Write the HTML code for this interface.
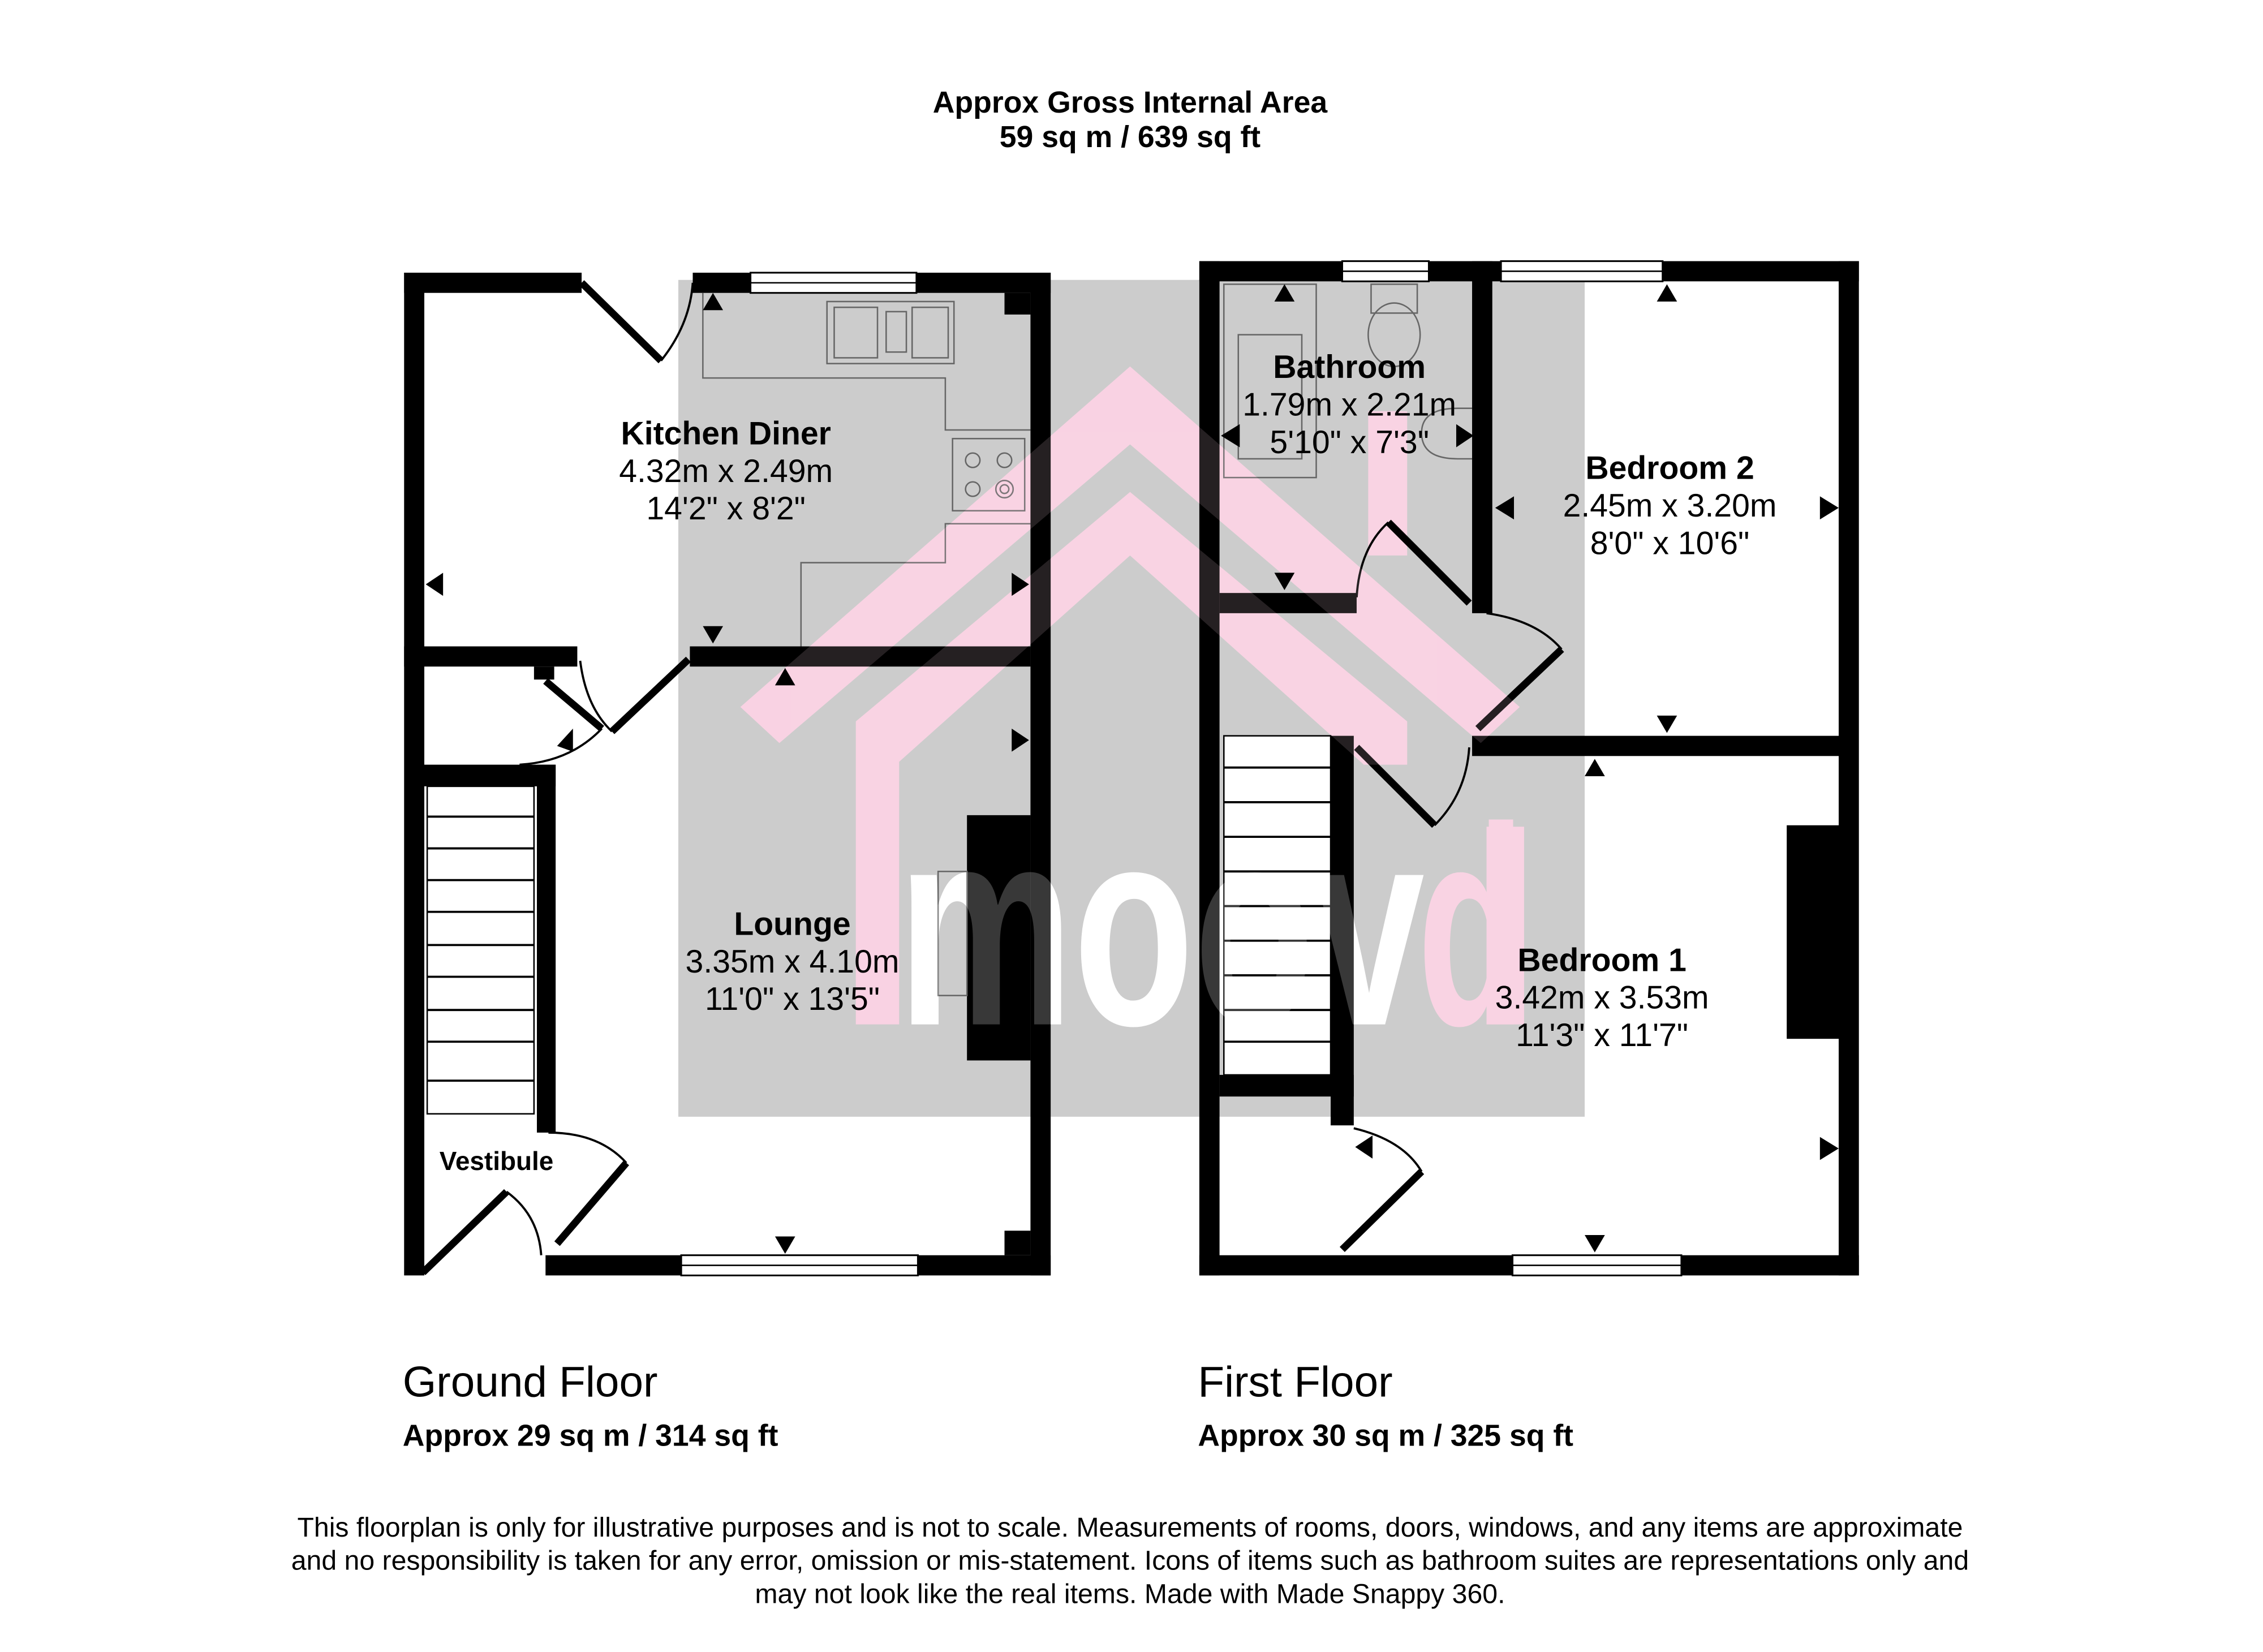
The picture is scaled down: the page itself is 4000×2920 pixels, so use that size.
<!DOCTYPE html>
<html><head><meta charset="utf-8"><style>
html,body{margin:0;padding:0;background:#fff}
svg{display:block}
text{font-family:"Liberation Sans",Arial,sans-serif}
</style></head><body>
<svg width="4000" height="2920" viewBox="0 0 1568 1145" preserveAspectRatio="none" xmlns="http://www.w3.org/2000/svg">
<rect width="1568" height="1145" fill="#fff"/>
<!-- watermark -->
<rect x="470" y="194" width="628" height="580" fill="#cccccc"/>
<g fill="#f9d3e3">
<polygon points="513,490 783,254 1053,490 1026,515 783,308 540,515"/>
<polygon points="593,710 593,500 783,341 975,500 975,530 945,530 783,385 623,528 623,710"/>
<rect x="948" y="285" width="27" height="100"/>
<rect x="1030" y="573" width="26" height="137"/>
</g>
<text x="622" y="710" font-size="196" font-weight="bold" fill="#fff" textLength="365" lengthAdjust="spacingAndGlyphs">moov</text>
<text x="982" y="710" font-size="196" font-weight="bold" fill="#f9d3e3" textLength="75" lengthAdjust="spacingAndGlyphs">d</text>

<!-- GROUND FLOOR -->
<g fill="#000">
<rect x="280" y="189" width="123" height="14"/>
<rect x="480" y="189" width="40" height="14"/>
<rect x="635" y="189" width="93" height="14"/>
<rect x="280" y="189" width="14" height="695"/>
<rect x="714" y="189" width="14" height="695"/>
<rect x="378" y="870" width="94" height="14"/>
<rect x="636" y="870" width="92" height="14"/>
<rect x="696" y="203" width="18" height="15"/>
<rect x="696" y="853" width="18" height="17"/>
<rect x="280" y="448" width="120" height="14"/>
<rect x="370" y="462" width="14" height="9"/>
<rect x="478" y="448" width="236" height="14"/>
<rect x="294" y="530" width="91" height="15"/>
<rect x="372" y="530" width="13" height="255"/>
<rect x="670" y="565" width="44" height="170"/>
<rect x="1238" y="572" width="36" height="148"/>
</g>
<!-- windows -->
<g fill="#fff" stroke="#000" stroke-width="1.2">
<rect x="520" y="189" width="115" height="14"/>
<rect x="472" y="870" width="164" height="14"/>
<rect x="930" y="181" width="60" height="14"/>
<rect x="1040" y="181" width="112" height="14"/>
<rect x="1048" y="870" width="117" height="14"/>
</g>
<g stroke="#000" stroke-width="1"><line x1="520" y1="196" x2="635" y2="196"/><line x1="472" y1="877" x2="636" y2="877"/><line x1="930" y1="188" x2="990" y2="188"/><line x1="1040" y1="188" x2="1152" y2="188"/><line x1="1048" y1="877" x2="1165" y2="877"/></g>
<!-- doors ground -->
<g stroke="#000" fill="none">
<line x1="403" y1="196" x2="458" y2="250" stroke-width="5"/>
<path d="M458,250 Q478,225 480,196" stroke-width="1.5"/>
<line x1="477" y1="457" x2="424" y2="507" stroke-width="5"/>
<path d="M402,458 Q406,490 424,507" stroke-width="1.5"/>
<line x1="378" y1="472" x2="417" y2="505" stroke-width="5"/>
<path d="M360,530 Q395,528 417,505" stroke-width="1.5"/>
<line x1="293" y1="882" x2="351" y2="826" stroke-width="5"/>
<path d="M351,826 Q373,842 375,870" stroke-width="1.5"/>
<line x1="386" y1="862" x2="434" y2="806" stroke-width="5"/>
<path d="M380,785 Q415,785 434,806" stroke-width="1.5"/>
</g>
<!-- stairs ground -->
<rect x="296" y="545" width="74" height="227" fill="#fff" stroke="#000" stroke-width="1"/>
<g stroke="#000" stroke-width="1.5">
<line x1="296" y1="566" x2="370" y2="566"/><line x1="296" y1="588" x2="370" y2="588"/><line x1="296" y1="610" x2="370" y2="610"/><line x1="296" y1="632" x2="370" y2="632"/><line x1="296" y1="655" x2="370" y2="655"/><line x1="296" y1="677" x2="370" y2="677"/><line x1="296" y1="700" x2="370" y2="700"/><line x1="296" y1="722" x2="370" y2="722"/><line x1="296" y1="749" x2="370" y2="749"/>
</g>
<!-- kitchen units / fittings -->
<g fill="none" stroke="#666" stroke-width="1">
<polyline points="487,203 487,262 655,262 655,298 714,298"/>
<polyline points="714,363 655,363 655,390 555,390 555,448"/>
<rect x="573" y="209" width="88" height="43"/>
<rect x="578" y="213" width="30" height="35"/><rect x="614" y="216" width="14" height="28"/><rect x="632" y="213" width="25" height="35"/>
<rect x="660" y="304" width="50" height="50"/>
<circle cx="674" cy="319" r="5"/><circle cx="696" cy="319" r="5"/><circle cx="674" cy="339" r="5"/><circle cx="696" cy="339" r="6"/><circle cx="696" cy="339" r="3"/>
<rect x="650" y="604" width="20" height="86"/>
<rect x="848" y="197" width="64" height="134"/><rect x="858" y="232" width="44" height="86"/>
<ellipse cx="966" cy="232" rx="18" ry="22"/><rect x="950" y="197" width="32" height="20"/>
<path d="M1020,283 L1010,283 Q985,283 985,300 Q985,318 1010,318 L1020,318"/>
</g>

<!-- FIRST FLOOR -->
<g fill="#000">
<rect x="831" y="181" width="99" height="14"/>
<rect x="990" y="181" width="50" height="14"/>
<rect x="1152" y="181" width="136" height="14"/>
<rect x="831" y="181" width="14" height="703"/>
<rect x="1274" y="181" width="14" height="703"/>
<rect x="831" y="870" width="217" height="14"/>
<rect x="1165" y="870" width="123" height="14"/>
<rect x="1020" y="181" width="14" height="244"/>
<rect x="845" y="411" width="95" height="14"/>
<rect x="1020" y="510" width="254" height="14"/>
<rect x="922" y="510" width="16" height="270"/>
<rect x="845" y="745" width="93" height="15"/>
</g>
<rect x="848" y="510" width="74" height="235" fill="#fff" stroke="#000" stroke-width="1"/>
<g stroke="#000" stroke-width="1.5">
<line x1="848" y1="532" x2="922" y2="532"/><line x1="848" y1="556" x2="922" y2="556"/><line x1="848" y1="580" x2="922" y2="580"/><line x1="848" y1="604" x2="922" y2="604"/><line x1="848" y1="628" x2="922" y2="628"/><line x1="848" y1="652" x2="922" y2="652"/><line x1="848" y1="676" x2="922" y2="676"/><line x1="848" y1="700" x2="922" y2="700"/><line x1="848" y1="722" x2="922" y2="722"/>
</g>
<g stroke="#000" fill="none">
<line x1="1018" y1="418" x2="962" y2="362" stroke-width="5"/>
<path d="M940,414 Q942,380 962,362" stroke-width="1.5"/>
<line x1="1024" y1="505" x2="1082" y2="450" stroke-width="5"/>
<path d="M1030,425 Q1065,430 1082,450" stroke-width="1.5"/>
<line x1="940" y1="518" x2="994" y2="572" stroke-width="5"/>
<path d="M994,572 Q1016,550 1018,518" stroke-width="1.5"/>
<line x1="930" y1="866" x2="985" y2="812" stroke-width="5"/>
<path d="M938,782 Q972,790 985,812" stroke-width="1.5"/>
</g>
<!-- watermark overlay on walls -->
<g opacity="0.22">
<text x="622" y="710" font-size="196" font-weight="bold" fill="#fff" textLength="365" lengthAdjust="spacingAndGlyphs">moov</text>
</g>
<g opacity="0.15" fill="#f9d3e3">
<polygon points="513,490 783,254 1053,490 1026,515 783,308 540,515"/>
<polygon points="593,710 593,500 783,341 975,500 975,530 945,530 783,385 623,528 623,710"/>
</g>
<!-- arrows -->
<g fill="#000">
<polygon points="487,215 501,215 494,203"/>
<polygon points="307,397 307,413 295,405"/>
<polygon points="701,397 701,413 713,405"/>
<polygon points="487,434 501,434 494,446"/>
<polygon points="537,475 551,475 544,463"/>
<polygon points="701,505 701,521 713,513"/>
<polygon points="537,857 551,857 544,869"/>
<polygon points="386,517 397,505 397,521"/>
<polygon points="883,209 897,209 890,197"/>
<polygon points="859,294 859,310 846,302"/>
<polygon points="1009,294 1009,310 1021,302"/>
<polygon points="883,397 897,397 890,409"/>
<polygon points="1049,344 1049,360 1036,352"/>
<polygon points="1261,344 1261,360 1274,352"/>
<polygon points="1148,209 1162,209 1155,197"/>
<polygon points="1148,496 1162,496 1155,508"/>
<polygon points="1098,538 1112,538 1105,526"/>
<polygon points="951,787 951,803 939,795"/>
<polygon points="1261,788 1261,804 1274,796"/>
<polygon points="1098,856 1112,856 1105,868"/>
</g>
<!-- labels -->
<g text-anchor="middle" font-size="22.4">
<text x="783" y="78" font-weight="bold" font-size="21">Approx Gross Internal Area</text>
<text x="783" y="102" font-weight="bold" font-size="21">59 sq m / 639 sq ft</text>
<text x="503" y="308" font-weight="bold">Kitchen Diner</text>
<text x="503" y="334">4.32m x 2.49m</text>
<text x="503" y="360">14'2" x 8'2"</text>
<text x="549" y="648" font-weight="bold">Lounge</text>
<text x="549" y="674">3.35m x 4.10m</text>
<text x="549" y="700">11'0" x 13'5"</text>
<text x="935" y="262" font-weight="bold">Bathroom</text>
<text x="935" y="288">1.79m x 2.21m</text>
<text x="935" y="314">5'10" x 7'3"</text>
<text x="1157" y="332" font-weight="bold">Bedroom 2</text>
<text x="1157" y="358">2.45m x 3.20m</text>
<text x="1157" y="384">8'0" x 10'6"</text>
<text x="1110" y="673" font-weight="bold">Bedroom 1</text>
<text x="1110" y="699">3.42m x 3.53m</text>
<text x="1110" y="725">11'3" x 11'7"</text>
<text x="344" y="811" font-weight="bold" font-size="18">Vestibule</text>
</g>
<text x="279" y="968" font-size="30">Ground Floor</text>
<text x="279" y="1002" font-size="21" font-weight="bold">Approx 29 sq m / 314 sq ft</text>
<text x="830" y="968" font-size="30">First Floor</text>
<text x="830" y="1002" font-size="21" font-weight="bold">Approx 30 sq m / 325 sq ft</text>
<g text-anchor="middle" font-size="18.9">
<text x="783" y="1065">This floorplan is only for illustrative purposes and is not to scale. Measurements of rooms, doors, windows, and any items are approximate</text>
<text x="783" y="1088">and no responsibility is taken for any error, omission or mis-statement. Icons of items such as bathroom suites are representations only and</text>
<text x="783" y="1111">may not look like the real items. Made with Made Snappy 360.</text>
</g>
</svg>
</body></html>
